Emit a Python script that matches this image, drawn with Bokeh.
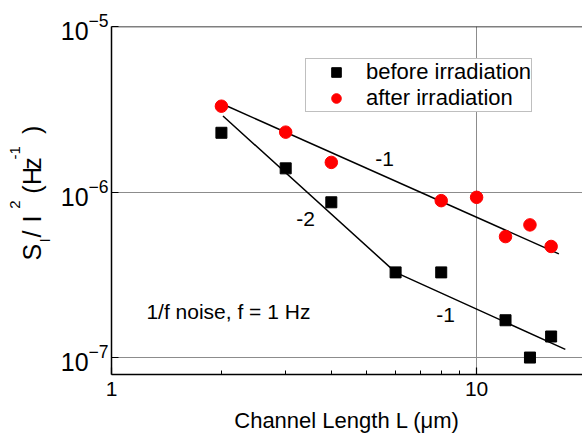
import math
from bokeh.plotting import figure
from bokeh.layouts import row
from bokeh.models import (Label, Span, Legend, LegendItem, FixedTicker,
                          BasicTickFormatter, Range1d)
from bokeh.embed import file_html
from bokeh.resources import INLINE

# ---- data ----
L_before = [2, 3, 4, 6, 8, 12, 14, 16]
S_before = [2.28e-6, 1.39e-6, 8.67e-7, 3.27e-7, 3.27e-7, 1.68e-7, 1.0e-7, 1.34e-7]
L_after = [2, 3, 4, 8, 10, 12, 14, 16]
S_after = [3.30e-6, 2.30e-6, 1.51e-6, 8.87e-7, 9.29e-7, 5.38e-7, 6.33e-7, 4.69e-7]
fit_before_L = [2.02, 6.0, 17.5]
fit_before_S = [2.88e-6, 3.27e-7, 1.12e-7]
fit_after_L = [2.02, 16.8]
fit_after_S = [3.39e-6, 4.23e-7]
x_major = [1, 10]
x_minor = [2, 3, 4, 5, 6, 7, 8, 9, 20]
y_major = [1e-7, 1e-6, 1e-5]
series_labels = ["before irradiation", "after irradiation"]
x_label = "Channel Length L (μm)"
y_label_parts = ["S", "I", "/", "I", "2", "(", "H", "z", "-1", ")"]

FONT = "Liberation Sans"
H = 437
LAB_W = 54       # width of the y-label strip

# ---------------- main plot ----------------
p = figure(width=582 - LAB_W, height=H, x_axis_type="log", y_axis_type="log",
           x_range=Range1d(1, 19.5), y_range=Range1d(7.9e-8, 1e-5), title=None,
           output_backend="svg", toolbar_location=None,
           min_border_left=111 - LAB_W, min_border_right=0, min_border_top=26,
           min_border_bottom=63)
p.outline_line_color = None
p.background_fill_color = "white"

p.xaxis.ticker = FixedTicker(ticks=x_major, minor_ticks=x_minor)
p.yaxis.ticker = FixedTicker(ticks=y_major, minor_ticks=[])
p.xaxis.formatter = BasicTickFormatter()
for ax in (p.xaxis, p.yaxis):
    ax.axis_line_color = "black"
    ax.axis_line_width = 1.5
    ax.major_tick_in = 7
    ax.major_tick_out = 0
    ax.major_tick_line_color = "black"
    ax.major_tick_line_width = 1.2
    ax.minor_tick_in = 4
    ax.minor_tick_out = 0
    ax.minor_tick_line_color = "black"
    ax.major_label_text_font = FONT
    ax.major_label_text_color = "black"
p.yaxis.minor_tick_line_color = None
p.xaxis.major_label_text_font_size = "21px"
p.yaxis.major_label_text_font_size = "25px"
p.xaxis.major_label_standoff = 7
p.yaxis.major_label_standoff = 3
p.xaxis.axis_label = x_label
p.xaxis.axis_label_text_font = FONT
p.xaxis.axis_label_text_font_size = "22px"
p.xaxis.axis_label_text_font_style = "normal"
p.xaxis.axis_label_text_color = "black"
p.xaxis.axis_label_standoff = 9

p.xgrid.grid_line_color = "#8c8c8c"
p.ygrid.grid_line_color = "#8c8c8c"
p.xgrid.grid_line_width = 1
p.ygrid.grid_line_width = 1

p.add_layout(Span(location=1e-5, dimension="width", line_color="black", line_width=1.5))

p.line(fit_after_L, fit_after_S, line_color="black", line_width=1.5)
p.line(fit_before_L, fit_before_S, line_color="black", line_width=1.5)

r1 = p.scatter(L_before, S_before, marker="square", size=11, color="black")
r2 = p.scatter(L_after, S_after, marker="circle", size=12.5, color="red")

legend = Legend(items=[LegendItem(label=series_labels[0], renderers=[r1]),
                       LegendItem(label=series_labels[1], renderers=[r2])],
                location=(194, 262))
legend.border_line_color = "#808080"
legend.border_line_width = 1
legend.background_fill_color = "white"
legend.background_fill_alpha = 1
legend.padding = 0
legend.spacing = 0
legend.margin = 0
legend.glyph_width = 60
legend.glyph_height = 24
legend.label_height = 24
legend.label_standoff = 0
legend.label_text_font = FONT
legend.label_text_font_size = "22px"
legend.label_text_color = "black"
p.add_layout(legend)

for (x, y, t) in [(5.60, 1.58e-6, "-1"), (3.40, 6.88e-7, "-2"), (8.22, 1.82e-7, "-1"),
                  (2.09, 1.89e-7, "1/f noise, f = 1 Hz")]:
    p.add_layout(Label(x=x, y=y, text=t, text_align="center", text_baseline="middle",
                       text_font=FONT, text_font_size="21px", text_color="black"))

# ---------------- y-label strip ----------------
pl = figure(width=LAB_W, height=H, x_range=Range1d(0, LAB_W), y_range=Range1d(0, H),
            title=None, output_backend="svg", toolbar_location=None, min_border=0,
            x_axis_location=None, y_axis_location=None)
pl.outline_line_color = None
pl.xgrid.visible = False
pl.ygrid.visible = False
# (font size, baseline x, start y) in canvas pixels
piece_pos = [(25, 31, 294), (14, 44, 271), (25, 31, 265), (25, 31, 246), (15, 14, 229),
             (25, 31, 210), (25, 31, 199), (25, 31, 180), (15, 14, 167), (25, 31, 135)]
for t, (fs, cx, cy) in zip(y_label_parts, piece_pos):
    pl.add_layout(Label(x=cx, y=H - cy, text=t, angle=math.pi / 2,
                        text_align="left", text_baseline="alphabetic", text_font=FONT,
                        text_font_size=f"{fs}px", text_color="black"))

layout = row(pl, p, spacing=0)
open("out.html", "w").write(file_html(layout, INLINE))
